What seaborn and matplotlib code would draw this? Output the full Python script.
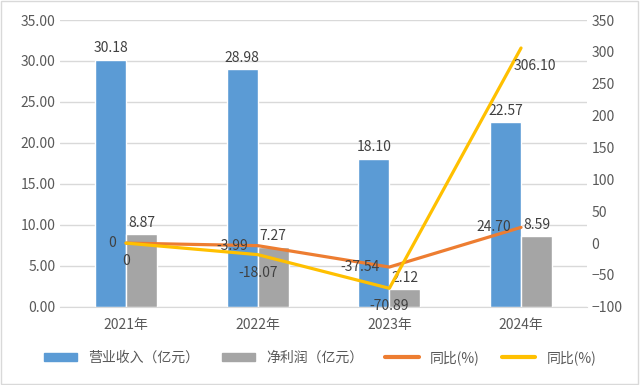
import pandas as pd
import matplotlib.pyplot as plt
import seaborn as sns
from matplotlib.patches import Patch
from matplotlib.lines import Line2D

# 数据
years = ['2021年', '2022年', '2023年', '2024年']
revenue = [30.18, 28.98, 18.10, 22.57]        # 营业收入（亿元）
profit = [8.87, 7.27, 2.12, 8.59]             # 净利润（亿元）
revenue_yoy = [0, -3.99, -37.54, 24.70]       # 同比(%)
profit_yoy = [0, -18.07, -70.89, 306.10]      # 同比(%)

sns.set_style('white')
plt.rcParams['font.family'] = ['Noto Sans CJK SC', 'DejaVu Sans']

blue, gray, orange, yellow = '#5B9BD5', '#A5A5A5', '#ED7D31', '#FFC000'
txt = '#595959'

df = pd.DataFrame({
    'year': years * 2,
    'value': revenue + profit,
    'kind': ['营业收入（亿元）'] * 4 + ['净利润（亿元）'] * 4,
})

fig = plt.figure(figsize=(6.4, 3.85), dpi=100)
ax = fig.add_axes([0.094, 0.203, 0.823, 0.745])
sns.barplot(data=df, x='year', y='value', hue='kind', palette=[blue, gray],
            width=0.47, ax=ax, legend=False, saturation=1)
ax.set_ylim(0, 35)
ax.set_yticks(range(0, 36, 5))
ax.set_yticklabels([f'{v:.2f}' for v in range(0, 36, 5)])
ax.set_xlim(-0.5, 3.5)
ax.set_xlabel('')
ax.set_ylabel('')
ax.grid(axis='y', color='#D9D9D9', linewidth=1)
ax.set_axisbelow(True)
for s in ['top', 'right', 'left']:
    ax.spines[s].set_visible(False)
ax.spines['bottom'].set_color('#D9D9D9')
ax.tick_params(length=0, colors=txt, labelsize=10)
ax.tick_params(axis='x', pad=8)

for cont in ax.containers:
    ax.bar_label(cont, fmt='%.2f', padding=3, color='#404040', fontsize=10)

ax2 = ax.twinx()
xs = list(range(len(years)))
sns.lineplot(x=xs, y=revenue_yoy, color=orange, linewidth=2.3, ax=ax2)
sns.lineplot(x=xs, y=profit_yoy, color=yellow, linewidth=2.3, ax=ax2)
ax2.set_ylim(-100, 350)
ax2.set_yticks(range(-100, 351, 50))
for s in ax2.spines.values():
    s.set_visible(False)
ax2.tick_params(length=0, colors=txt, labelsize=10)

for x, v in zip(xs, revenue_yoy):
    ax2.annotate(f'{v:.2f}' if v else '0', (x, v), xytext=(-7, 0), textcoords='offset points',
                 ha='right', va='center', color='#404040', fontsize=10)
for x, v in zip(xs, profit_yoy):
    dx = 10 if v > 300 else 0
    ax2.annotate(f'{v:.2f}' if v else '0', (x, v), xytext=(dx, -8), textcoords='offset points',
                 ha='center', va='top', color='#404040', fontsize=10)

handles = [Patch(color=blue), Patch(color=gray),
           Line2D([], [], color=orange, linewidth=3), Line2D([], [], color=yellow, linewidth=3)]
labels = ['营业收入（亿元）', '净利润（亿元）', '同比(%)', '同比(%)']
fig.legend(handles, labels, loc='center', bbox_to_anchor=(0.5, 0.072), ncol=4, frameon=False,
           fontsize=10, labelcolor=txt, handlelength=2.4, handleheight=0.5, columnspacing=1.6)

fig.patches.append(plt.Rectangle((0.002, 0.003), 0.995, 0.994, transform=fig.transFigure,
                                 fill=False, edgecolor='#D9D9D9', linewidth=1))

plt.savefig('out.png', dpi=100)
